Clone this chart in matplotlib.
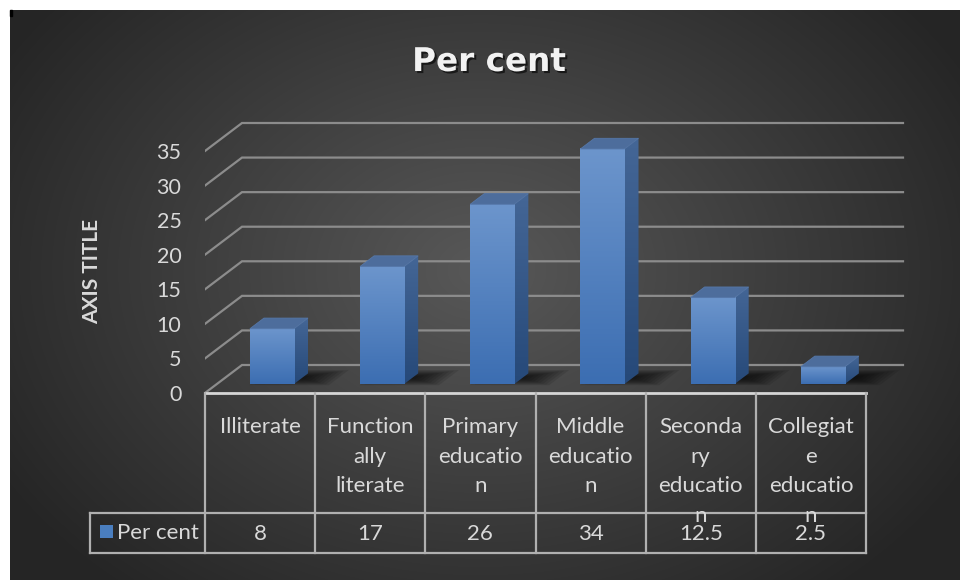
import numpy as np
import matplotlib
matplotlib.use("Agg")
import matplotlib.pyplot as plt
from matplotlib import transforms
from matplotlib import patheffects as pe
from matplotlib.patches import Polygon, Rectangle

# ---- data ----
categories = ["Illiterate", "Function\nally\nliterate", "Primary\neducatio\nn",
              "Middle\neducatio\nn", "Seconda\nry\neducatio\nn", "Collegiat\ne\neducatio\nn"]
values = [8, 17, 26, 34, 12.5, 2.5]
series_name = "Per cent"
chart_title = "Per cent"
axis_title = "AXIS TITLE"
y_ticks = [0, 5, 10, 15, 20, 25, 30, 35]

W, H = 960, 580
plt.rcParams['font.family'] = ['Lato', 'DejaVu Sans']

fig = plt.figure(figsize=(W / 100, H / 100), dpi=100, facecolor='white')

# background axes in pixel coordinates (y down)
bg = fig.add_axes([0, 0, 1, 1], zorder=0)
bg.set_xlim(0, W)
bg.set_ylim(H, 0)
bg.axis('off')
yy, xx = np.mgrid[10:H, 10:W]
r = np.clip(np.sqrt(((xx - 480) / 560.0) ** 2 + ((yy - 270) / 420.0) ** 2), 0, 1)
c_in = np.array([0x58, 0x58, 0x58]) / 255
c_out = np.array([0x25, 0x25, 0x25]) / 255
bg.imshow(c_in + (c_out - c_in) * r[..., None], extent=(10, W, H, 10),
          aspect='auto', interpolation='bilinear')
bg.add_patch(Rectangle((10, 10), 2, 6, color='black'))

# ---- plot geometry (pixels) ----
n = len(values)
fx0, fx1 = 205, 866      # front floor edge
fy0, fy35 = 393, 151     # front y of 0 and 35
ux = (fx1 - fx0) / n
uy = (fy0 - fy35) / 35
ax_right, ax_top = 912, 105

ax = fig.add_axes([fx0 / W, (H - fy0) / H, (ax_right - fx0) / W, (fy0 - ax_top) / H], zorder=1)
ax.set_xlim(-0.5, -0.5 + (ax_right - fx0) / ux)
ax.set_ylim(0, (fy0 - ax_top) / uy)
ax.patch.set_visible(False)
for s in ax.spines.values():
    s.set_visible(False)
ax.set_xticks([])
ax.set_yticks(y_ticks)
ax.tick_params(axis='y', length=0, pad=17, labelsize=15.5, labelcolor='#d9d9d9')

DX, DY = 37 / ux, 28 / uy   # depth offset in data units


def P(x, y, d):
    return (x + DX * d, y + DY * d)


grid = '#8c8c8c'
xmin, xmax = -0.5, n - 0.5
for t in y_ticks:
    a, b, c = P(xmin, t, 0), P(xmin, t, 1), P(xmax, t, 1)
    ax.plot([a[0], b[0], c[0]], [a[1], b[1], c[1]], color=grid, lw=1.6,
            solid_joinstyle='miter', zorder=1)

# ---- bars ----
bw = 0.4
d0, d1 = 0.32, 0.70
front_grad = np.linspace(0, 1, 64)[:, None, None] * (np.array([0x3c, 0x6e, 0xb2]) - np.array([0x6c, 0x95, 0xcc])) / 255 \
    + np.array([0x6c, 0x95, 0xcc]) / 255
side_grad = np.linspace(0, 1, 64)[:, None, None] * (np.array([0x26, 0x49, 0x79]) - np.array([0x44, 0x66, 0x96])) / 255 \
    + np.array([0x44, 0x66, 0x96]) / 255

for x, v in zip(range(n), values):
    xl, xr = x - bw / 2, x + bw / 2
    # soft floor shadow
    cx, cd = xr - 0.03, 0.55
    for k in range(10):
        s = 1 - k / 10
        hx, hd = 0.36 * s, 0.27 * s
        pts = [P(cx - hx, 0, cd - hd), P(cx + hx, 0, cd - hd),
               P(cx + hx, 0, cd + hd), P(cx - hx, 0, cd + hd)]
        ax.add_patch(Polygon(pts, closed=True, facecolor='black', edgecolor='none',
                             alpha=0.1, zorder=2))
    # front face
    bl = P(xl, 0, d0)
    tr = P(xr, v, d0)
    ax.imshow(front_grad, extent=(bl[0], tr[0], bl[1], tr[1]), aspect='auto',
              interpolation='bilinear', zorder=4)
    # side face
    side = Polygon([P(xr, 0, d0), P(xr, 0, d1), P(xr, v, d1), P(xr, v, d0)], closed=True,
                   facecolor='none', edgecolor='none')
    ax.add_patch(side)
    sb = P(xr, 0, d0)
    st = P(xr + DX * (d1 - d0), v, d1)
    im = ax.imshow(side_grad, extent=(sb[0], st[0], sb[1], st[1]), aspect='auto',
                   interpolation='bilinear', zorder=3)
    im.set_clip_path(side)
    # top face
    ax.add_patch(Polygon([P(xl, v, d0), P(xr, v, d0), P(xr, v, d1), P(xl, v, d1)], closed=True,
                         facecolor='#4d6d9c', edgecolor='#5577a8', lw=0.6, zorder=5))

# ---- data table ----
tt = transforms.blended_transform_factory(ax.transData, bg.transData)
line_c = '#b0b0b0'
row_sep, tab_bot, legend_left = 513, 553, 90
ax.plot([xmin, xmax], [fy0, fy0], transform=tt, color='#d6d6d6', lw=2, clip_on=False, zorder=6)
for b in np.arange(n + 1) - 0.5:
    ax.plot([b, b], [fy0, tab_bot], transform=tt, color=line_c, lw=1.6, clip_on=False, zorder=6)
lx = (legend_left - fx0) / ux - 0.5
for yl in (row_sep, tab_bot):
    ax.plot([lx, xmax], [yl, yl], transform=tt, color=line_c, lw=1.6, clip_on=False, zorder=6)
ax.plot([lx, lx], [row_sep, tab_bot], transform=tt, color=line_c, lw=1.6, clip_on=False, zorder=6)

for x, (cat, v) in enumerate(zip(categories, values)):
    ax.text(x, 417, cat, transform=tt, ha='center', va='top', fontsize=16,
            color='#d9d9d9', linespacing=1.6, clip_on=False, zorder=7)
    ax.text(x, 534, f"{v:g}", transform=tt, ha='center', va='center', fontsize=16,
            color='#d9d9d9', clip_on=False, zorder=7)

bg.add_patch(Rectangle((100, 525), 13, 13, facecolor='#4a7ebf', edgecolor='none'))
bg.text(117, 533, series_name, ha='left', va='center', fontsize=16, color='#d9d9d9')

# ---- titles ----
bg.text(489, 71, chart_title, ha='center', va='baseline', fontsize=23.5, fontweight='bold',
        family='DejaVu Sans', color='#f2f2f2',
        path_effects=[pe.withSimplePatchShadow(offset=(1.5, -1.5), shadow_rgbFace='black', alpha=0.6)])
bg.text(92, 271, axis_title, ha='center', va='center', rotation=90, fontsize=15,
        fontweight='bold', color='#d9d9d9')

fig.savefig('out.png', dpi=100, facecolor='white')
